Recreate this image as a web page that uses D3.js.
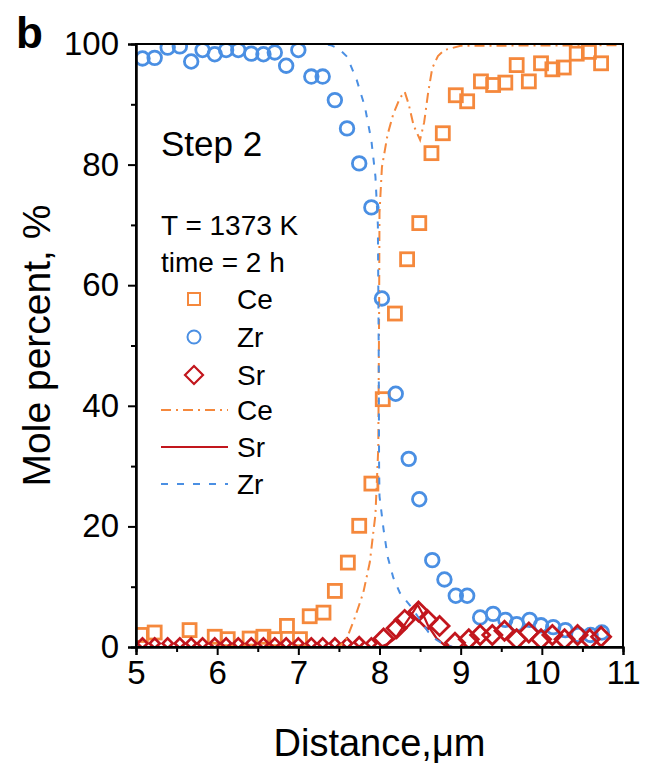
<!DOCTYPE html>
<html><head><meta charset="utf-8">
<script src="https://cdn.jsdelivr.net/npm/d3@7"></script>
<style>body{margin:0;background:#fff}</style>
</head><body>
<svg id="c" width="647" height="767"></svg>
<script>
// ---------- data ----------
const xTicks = [5, 6, 7, 8, 9, 10, 11];
const xMinor = [5.5, 6.5, 7.5, 8.5, 9.5, 10.5];
const yTicks = [0, 20, 40, 60, 80, 100];
const yMinor = [10, 30, 50, 70, 90];

const ceX = [5.06,5.23,5.66,5.97,6.13,6.40,6.57,6.71,6.86,7.02,7.14,7.31,7.45,7.61,7.75,7.90,8.04,8.19,8.34,8.49,8.64,8.78,8.94,9.08,9.25,9.40,9.55,9.69,9.84,9.99,10.13,10.27,10.43,10.58,10.73];
const ceY = [2.0,2.4,2.8,1.7,1.3,1.4,1.7,1.3,3.5,1.3,5.1,5.7,9.3,14.0,20.1,27.1,41.1,55.3,64.3,70.3,81.9,85.2,91.5,90.5,93.8,93.2,93.6,96.5,93.8,96.8,95.8,96.1,98.4,98.7,96.8];

const zrX = [5.08,5.23,5.39,5.54,5.68,5.82,5.97,6.11,6.26,6.42,6.57,6.71,6.85,7.00,7.16,7.30,7.45,7.60,7.75,7.90,8.03,8.20,8.36,8.49,8.65,8.80,8.94,9.08,9.24,9.40,9.55,9.69,9.85,9.99,10.14,10.29,10.45,10.60,10.74];
const zrY = [97.6,97.7,99.4,99.6,97.1,99.0,98.3,99.0,99.0,98.4,98.3,98.6,96.4,99.0,94.6,94.6,90.7,86.0,80.2,72.9,57.8,42.0,31.2,24.5,14.4,11.2,8.5,8.5,4.9,5.5,4.5,3.8,4.5,3.6,3.3,2.8,2.0,2.0,2.4];

const srX = [5.08,5.23,5.39,5.54,5.68,5.82,5.97,6.11,6.26,6.42,6.57,6.71,6.85,7.00,7.16,7.30,7.45,7.60,7.75,7.90,8.05,8.21,8.31,8.48,8.59,8.74,8.93,9.10,9.24,9.39,9.54,9.69,9.84,9.99,10.13,10.28,10.44,10.59,10.73];
const srY = [0.6,0.6,0.6,0.6,0.6,0.6,0.6,0.6,0.6,0.6,0.6,0.6,0.6,0.6,0.6,0.6,0.6,0.6,0.8,0.6,1.4,3.1,4.5,5.9,4.5,3.5,0.7,1.3,2.0,2.0,2.7,1.3,2.4,1.3,2.0,1.3,2.0,1.3,1.7];

const ceLineX = [5.0,7.5,7.6,7.7,7.8,7.88,7.95,7.985,7.995,8.0,8.03,8.1,8.17,8.25,8.31,8.36,8.42,8.5,8.55,8.6,8.65,8.72,8.8,9.0,11.0];
const ceLineY = [0,0,1.5,5,9,14,22,33,55,72,79.6,85,88.4,91,92.1,90,86.5,84.1,87,92,96,98,99,99.7,99.8];

const zrLineX = [5.0,7.3,7.4,7.5,7.6,7.72,7.82,7.9,7.95,7.98,7.99,7.995,8.0,8.05,8.1,8.17,8.25,8.32,8.4,8.5,8.6,8.7,8.8,8.9,11.0];
const zrLineY = [100,100,99.8,99.2,97.9,94,89.6,84,78,70,50,30,25,19.5,15,11.5,9,7.8,6.5,4.5,2.5,1.2,0.4,0,0];

const srLineX = [5.0,8.0,8.1,8.2,8.3,8.4,8.47,8.55,8.6,8.7,8.8,8.9,11.0];
const srLineY = [0,0,0.5,1.5,3.5,5.5,7,5,3.5,1.5,0.3,0,0];

const legendLabels = ["Ce","Zr","Sr","Ce","Sr","Zr"];

// ---------- drawing ----------
const FONT = "'Liberation Sans', Arial, Helvetica, sans-serif";
const ORANGE = "#F5883C", BLUE = "#4A8FE3", RED = "#C2161D";
const svg = d3.select("#c");
const L = 136, R = 623, T = 44, B = 647;
const x = d3.scaleLinear().domain([5, 11]).range([L, R]);
const y = d3.scaleLinear().domain([0, 100]).range([B, T]);

svg.append("defs").append("clipPath").attr("id", "clip")
  .append("rect").attr("x", L).attr("y", T).attr("width", R - L).attr("height", B - T);

const plot = svg.append("g").attr("clip-path", "url(#clip)");

const zip = (a, b) => a.map((v, i) => [v, b[i]]);

// Ce squares
const sq = 13;
plot.selectAll(".ce").data(zip(ceX, ceY)).join("rect")
  .attr("x", d => x(d[0]) - sq / 2).attr("y", d => y(d[1]) - sq / 2)
  .attr("width", sq).attr("height", sq)
  .attr("fill", "none").attr("stroke", ORANGE).attr("stroke-width", 2.8);

// Zr circles
plot.selectAll(".zr").data(zip(zrX, zrY)).join("circle")
  .attr("cx", d => x(d[0])).attr("cy", d => y(d[1])).attr("r", 6.8)
  .attr("fill", "none").attr("stroke", BLUE).attr("stroke-width", 2.8);

// Sr diamonds
const dia = (s) => `M0,${-s}L${s},0L0,${s}L${-s},0Z`;
plot.selectAll(".sr").data(zip(srX, srY)).join("path")
  .attr("transform", d => `translate(${x(d[0])},${y(d[1])})`)
  .attr("d", d => dia(d[0] < 8 ? 5 : 9.5))
  .attr("fill", "none").attr("stroke", RED).attr("stroke-width", 2.8);

// model lines
const line = d3.line().x(d => x(d[0])).y(d => y(d[1]));
plot.append("path").datum(zip(ceLineX, ceLineY)).attr("d", line)
  .attr("fill", "none").attr("stroke", ORANGE).attr("stroke-width", 2).attr("stroke-dasharray", "10,5,2,5");
plot.append("path").datum(zip(srLineX, srLineY)).attr("d", line)
  .attr("fill", "none").attr("stroke", RED).attr("stroke-width", 2.2);
plot.append("path").datum(zip(zrLineX, zrLineY)).attr("d", line)
  .attr("fill", "none").attr("stroke", BLUE).attr("stroke-width", 2).attr("stroke-dasharray", "7,9");

// frame
svg.append("rect").attr("x", L).attr("y", T).attr("width", R - L).attr("height", B - T)
  .attr("fill", "none").attr("stroke", "#000").attr("stroke-width", 2);

// axes
const xAxis = svg.append("g").attr("transform", `translate(0,${B})`)
  .call(d3.axisBottom(x).tickValues(xTicks).tickSize(8).tickPadding(6).tickFormat(d3.format("d")));
const xAxisMinor = svg.append("g").attr("transform", `translate(0,${B})`)
  .call(d3.axisBottom(x).tickValues(xMinor).tickSize(5).tickFormat(""));
const yAxis = svg.append("g").attr("transform", `translate(${L},0)`)
  .call(d3.axisLeft(y).tickValues(yTicks).tickSize(8).tickPadding(9).tickFormat(d3.format("d")));
const yAxisMinor = svg.append("g").attr("transform", `translate(${L},0)`)
  .call(d3.axisLeft(y).tickValues(yMinor).tickSize(5).tickFormat(""));
[xAxis, xAxisMinor, yAxis, yAxisMinor].forEach(g => {
  g.select(".domain").attr("stroke-width", 2);
  g.selectAll(".tick line").attr("stroke-width", 2);
  g.selectAll("text").attr("font-family", FONT).attr("font-size", 33).attr("fill", "#000");
});

// titles
svg.append("text").attr("x", (L + R) / 2).attr("y", 756).attr("text-anchor", "middle")
  .attr("font-family", FONT).attr("font-size", 38).text("Distance,μm");
svg.append("text").attr("transform", `translate(50,${(T + B) / 2}) rotate(-90)`).attr("text-anchor", "middle")
  .attr("font-family", FONT).attr("font-size", 39).text("Mole percent, %");
svg.append("text").attr("x", 16).attr("y", 48).attr("font-family", FONT)
  .attr("font-weight", "bold").attr("font-size", 44).text("b");

// annotations
svg.append("text").attr("x", 161).attr("y", 156).attr("font-family", FONT).attr("font-size", 35).text("Step 2");
svg.append("text").attr("x", 161).attr("y", 235).attr("font-family", FONT).attr("font-size", 28).text("T = 1373 K");
svg.append("text").attr("x", 161).attr("y", 272).attr("font-family", FONT).attr("font-size", 28).text("time = 2 h");

// legend
const lg = svg.append("g");
const rowY = [299, 337, 375, 410, 447, 484];
const textX = 237;
legendLabels.forEach((lab, i) => {
  lg.append("text").attr("x", textX).attr("y", rowY[i] + 10).attr("font-family", FONT)
    .attr("font-size", 28).text(lab);
});
lg.append("rect").attr("x", 194 - 6).attr("y", rowY[0] - 6).attr("width", 12).attr("height", 12)
  .attr("fill", "none").attr("stroke", ORANGE).attr("stroke-width", 2);
lg.append("circle").attr("cx", 194).attr("cy", rowY[1]).attr("r", 6.5)
  .attr("fill", "none").attr("stroke", BLUE).attr("stroke-width", 2);
lg.append("path").attr("transform", `translate(194,${rowY[2]})`).attr("d", dia(9))
  .attr("fill", "none").attr("stroke", RED).attr("stroke-width", 2.2);
lg.append("line").attr("x1", 161).attr("x2", 228).attr("y1", rowY[3]).attr("y2", rowY[3])
  .attr("stroke", ORANGE).attr("stroke-width", 2).attr("stroke-dasharray", "10,5,2,5");
lg.append("line").attr("x1", 161).attr("x2", 228).attr("y1", rowY[4]).attr("y2", rowY[4])
  .attr("stroke", RED).attr("stroke-width", 2.2);
lg.append("line").attr("x1", 161).attr("x2", 228).attr("y1", rowY[5]).attr("y2", rowY[5])
  .attr("stroke", BLUE).attr("stroke-width", 2).attr("stroke-dasharray", "7,9");
</script>
</body></html>
